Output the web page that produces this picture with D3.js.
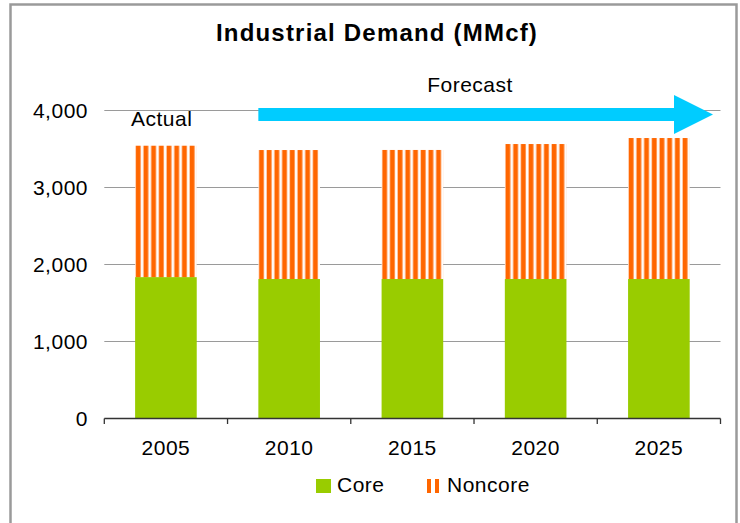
<!DOCTYPE html>
<html>
<head>
<meta charset="utf-8">
<script src="https://cdn.jsdelivr.net/npm/d3@7"></script>
<style>
  body { margin: 0; background: #fff; }
  svg text { font-family: "Liberation Sans", Arial, sans-serif; fill: #000; }
  .lbl { font-size: 21px; letter-spacing: 0.5px; }
</style>
</head>
<body>
<div id="chart"></div>
<script>
// Chart data
const years = ['2005', '2010', '2015', '2020', '2025']
const core = [1830, 1805, 1805, 1805, 1805]
const noncore = [1706, 1675, 1676, 1753, 1831]
const yTicks = [0, 1000, 2000, 3000, 4000]
const seriesNames = ['Core', 'Noncore']

const width = 740
const height = 523

const svg = d3
  .select('#chart')
  .append('svg')
  .attr('width', width)
  .attr('height', height)

// Outer border (bottom edge runs off the picture)
svg
  .append('rect')
  .attr('x', 10.5)
  .attr('y', 4.5)
  .attr('width', 726)
  .attr('height', 540)
  .attr('fill', 'none')
  .attr('stroke', '#9a9a9a')
  .attr('stroke-width', 2.5)

// Stripe pattern for noncore
const defs = svg.append('defs')
const pat = defs
  .append('pattern')
  .attr('id', 'stripes')
  .attr('patternUnits', 'objectBoundingBox')
  .attr('patternContentUnits', 'objectBoundingBox')
  .attr('width', 1 / 8)
  .attr('height', 1)
pat.append('rect').attr('width', 1 / 8).attr('height', 1).attr('fill', '#fff')
pat
  .append('rect')
  .attr('x', 0.004)
  .attr('width', 0.092)
  .attr('height', 1)
  .attr('fill', '#ffc9a6')
pat
  .append('rect')
  .attr('x', 0.014)
  .attr('width', 0.072)
  .attr('height', 1)
  .attr('fill', '#ff6600')

// Scales
const x = d3
  .scaleBand()
  .domain(years)
  .range([104.3, 720.5])
  .paddingInner(0.5)
  .paddingOuter(0.25)

const y = d3.scaleLinear().domain([0, 4000]).range([418, 110])

// Gridlines
svg
  .append('g')
  .selectAll('line')
  .data(yTicks.filter((d) => d > 0))
  .join('line')
  .attr('x1', 104.3)
  .attr('x2', 720.5)
  .attr('y1', (d) => Math.round(y(d)) + 0.5)
  .attr('y2', (d) => Math.round(y(d)) + 0.5)
  .attr('stroke', '#9a9a9a')
  .attr('stroke-width', 1)

// Y tick labels
svg
  .append('g')
  .selectAll('text')
  .data(yTicks)
  .join('text')
  .attr('class', 'lbl')
  .attr('x', 88)
  .attr('y', (d) => y(d) + 7.5)
  .attr('text-anchor', 'end')
  .text((d) => d3.format(',')(d))

// Bars
const stacked = years.map((yr, i) => ({ yr, core: core[i], noncore: noncore[i] }))
const stack = d3.stack().keys(['core', 'noncore'])(stacked)
const fills = { core: '#99cc00', noncore: 'url(#stripes)' }

svg
  .append('g')
  .selectAll('g')
  .data(stack)
  .join('g')
  .attr('fill', (s) => fills[s.key])
  .selectAll('rect')
  .data((s) => s)
  .join('rect')
  .attr('x', (d) => x(d.data.yr))
  .attr('width', x.bandwidth())
  .attr('y', (d) => y(d[1]))
  .attr('height', (d) => y(d[0]) - y(d[1]))

// X axis line with boundary ticks
const xAxis = svg.append('g').attr('stroke', '#333').attr('stroke-width', 1.3)
xAxis
  .append('line')
  .attr('x1', 104.3)
  .attr('x2', 720.5)
  .attr('y1', 418.5)
  .attr('y2', 418.5)
const bounds = years.map((d) => x(d) - (x.step() * x.paddingInner()) / 2)
bounds.push(720.5)
xAxis
  .selectAll('.tick')
  .data(bounds)
  .join('line')
  .attr('x1', (d) => d)
  .attr('x2', (d) => d)
  .attr('y1', 418.5)
  .attr('y2', 424)

// X labels
svg
  .append('g')
  .selectAll('text')
  .data(years)
  .join('text')
  .attr('class', 'lbl')
  .attr('x', (d) => x(d) + x.bandwidth() / 2)
  .attr('y', 455)
  .attr('text-anchor', 'middle')
  .text((d) => d)

// Title
svg
  .append('text')
  .attr('x', 377)
  .attr('y', 41)
  .attr('text-anchor', 'middle')
  .style('font-size', '24px')
  .style('font-weight', 'bold')
  .style('letter-spacing', '1.2px')
  .text('Industrial Demand (MMcf)')

// Forecast arrow
const ax0 = x('2010')
const ay = 114.5
const arrow = d3.path()
arrow.moveTo(ax0, ay - 6.5)
arrow.lineTo(674, ay - 6.5)
arrow.lineTo(674, ay - 19.5)
arrow.lineTo(713, ay)
arrow.lineTo(674, ay + 19.5)
arrow.lineTo(674, ay + 6.5)
arrow.lineTo(ax0, ay + 6.5)
arrow.closePath()
svg.append('path').attr('d', arrow.toString()).attr('fill', '#00ccff')

svg
  .append('text')
  .attr('class', 'lbl')
  .attr('x', 470)
  .attr('y', 92)
  .attr('text-anchor', 'middle')
  .text('Forecast')

svg
  .append('text')
  .attr('class', 'lbl')
  .attr('x', 131)
  .attr('y', 126)
  .text('Actual')

// Legend
const legend = svg.append('g')
legend
  .append('rect')
  .attr('x', 316)
  .attr('y', 479)
  .attr('width', 15)
  .attr('height', 14)
  .attr('fill', '#99cc00')
legend
  .append('text')
  .attr('class', 'lbl')
  .attr('x', 337)
  .attr('y', 492)
  .text(seriesNames[0])
legend
  .selectAll('.nc')
  .data([427, 435])
  .join('rect')
  .attr('x', (d) => d)
  .attr('y', 479)
  .attr('width', 4)
  .attr('height', 14)
  .attr('fill', '#ff6600')
legend
  .append('text')
  .attr('class', 'lbl')
  .attr('x', 447)
  .attr('y', 492)
  .text(seriesNames[1])
</script>
</body>
</html>
